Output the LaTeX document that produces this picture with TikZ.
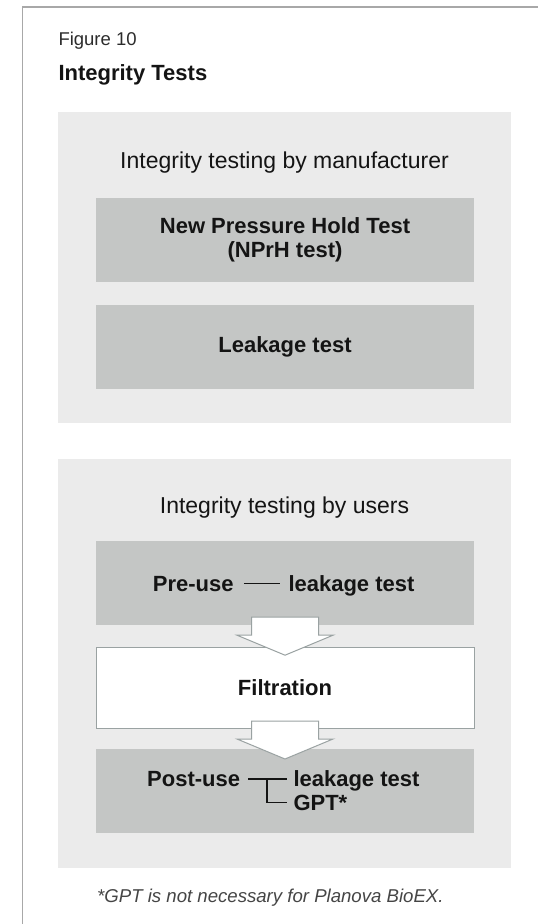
\documentclass[tikz,border=0pt]{standalone}
\usepackage{fontspec}
\setmainfont{Liberation Sans}
\usetikzlibrary{calc}
\definecolor{panelbg}{HTML}{EBEBEB}
\definecolor{boxbg}{HTML}{C4C6C5}
\definecolor{framegray}{HTML}{A8A8A8}
\definecolor{arrowgray}{HTML}{9AA2A2}
\definecolor{txt}{HTML}{141414}
\definecolor{notegray}{HTML}{454545}
\begin{document}
\begin{tikzpicture}[x=1pt,y=-1pt,
  panel/.style={fill=panelbg, draw=none, minimum width=453pt, inner sep=0pt},
  testbox/.style={fill=boxbg, draw=none, minimum width=378pt, minimum height=84pt, inner sep=0pt,
    align=center, text=txt, font=\fontsize{22}{24}\selectfont\bfseries},
  filtbox/.style={fill=white, draw=arrowgray, line width=1pt, minimum width=378pt, minimum height=81pt, inner sep=0pt,
    text=txt, font=\fontsize{22}{24}\selectfont\bfseries},
  paneltitle/.style={inner sep=0pt, anchor=base, text=txt, font=\fontsize{23}{26}\selectfont},
  boldtxt/.style={inner sep=0pt, anchor=base west, text=txt, font=\fontsize{22}{24}\selectfont\bfseries},
  blockarrow/.style={fill=white, draw=arrowgray, line width=1pt, line join=miter},
  bracket/.style={draw=txt, line width=1.6pt}
]
\useasboundingbox (0,0) rectangle (538,924);
\fill[white] (0,0) rectangle (538,924);
% frame
\draw[framegray, line width=1.5pt] (538,7) -- (22.5,7) -- (22.5,924);
% header
\node[inner sep=0pt, anchor=base west, text=txt!90, font=\fontsize{18.5}{22}\selectfont] (fig) at (58.3,45.5) {Figure 10};
\node[inner sep=0pt, anchor=base west, text=txt, font=\fontsize{22}{24}\selectfont\bfseries] (title) at (58.3,80) {Integrity Tests};

% panel 1
\node[panel, minimum height=311pt] (p1) at (284.5,267.5) {};
\node[paneltitle] (p1t) at (284.5,168.3) {Integrity testing by manufacturer};
\node[testbox] (nprh) at (285,240) {New Pressure Hold Test\\(NPrH test)};
\node[testbox] (leak) at (285,347) {Leakage test};

% panel 2
\node[panel, minimum height=409pt] (p2) at (284.5,663.5) {};
\node[paneltitle] (p2t) at (284.5,513) {Integrity testing by users};
\node[testbox] (pre) at (285,582.5) {};
\node[filtbox] (filt) at (285,687.5) {Filtration};
\node[testbox] (post) at (285,791) {};

% arrows
\foreach \b in {pre,filt}{
  \draw[blockarrow] ($(\b.south)+(-33.5,-7.5)$) -- ($(\b.south)+(33.5,-7.5)$)
    -- ($(\b.south)+(33.5,10.5)$) -- ($(\b.south)+(48,10.5)$)
    -- ($(\b.south)+(0,30.5)$) -- ($(\b.south)+(-48,10.5)$)
    -- ($(\b.south)+(-33.5,10.5)$) -- cycle;
}

% pre-use text
\node[boldtxt] (pretxt) at (152.7,591) {Pre-use};
\node[boldtxt] (preleak) at (288.3,591) {leakage test};
\draw[bracket] ([xshift=10pt]pretxt.east) -- ([xshift=-8pt]pretxt.east -| preleak.west);

% post-use text
\node[boldtxt] (posttxt) at (147,786.7) {Post-use};
\node[boldtxt] (postleak) at (293.3,786.7) {leakage test};
\node[boldtxt] (gpt) at (293.3,810) {GPT*};
\draw[bracket] ([xshift=7.7pt]posttxt.east) -- ([xshift=-6.5pt]posttxt.east -| postleak.west);
\coordinate (brk) at ($(posttxt.east)+(26.7,0)$);
\draw[bracket] (brk) |- ([xshift=-6.5pt]gpt.west);

% footnote
\node[inner sep=0pt, anchor=base west, text=notegray, font=\fontsize{18.6}{22}\selectfont\itshape] (note) at (97,902) {*GPT is not necessary for Planova BioEX.};
\end{tikzpicture}
\end{document}
